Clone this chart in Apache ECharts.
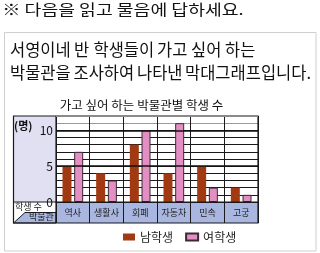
<!DOCTYPE html>
<html><head><meta charset="utf-8">
<script src="https://cdn.jsdelivr.net/npm/echarts@6/dist/echarts.min.js"></script>
<style>html,body{margin:0;padding:0;background:#fff;}#c{width:320px;height:253px;}</style>
</head><body><div id="c"></div>
<script>
const categories = ['역사', '생활사', '회폐', '자동차', '민속', '고궁'];
const boys = [5, 4, 8, 4, 5, 2];
const girls = [7, 3, 10, 11, 2, 1];
const yLabelTicks = [0, 5, 10];
const seriesNames = ['남학생', '여학생'];

const F = '"Noto Sans CJK KR", "Noto Sans", sans-serif';
const chart = echarts.init(document.getElementById('c'), null, {renderer: 'canvas'});
const gridColors = [];
for (let i = 0; i <= 12; i++) gridColors.push(i <= 10 ? '#1a1a1a' : '#9a9a9a');

function words(list, y, size) {
  return list.map(([t, x]) => ({type: 'text', x: x, y: y,
    style: {text: t, font: size + 'px ' + F, fill: '#111', verticalAlign: 'middle'}}));
}

chart.setOption({
  animation: false,
  backgroundColor: '#fff',
  textStyle: {fontFamily: F},
  grid: {left: 56, right: 62, top: 116, bottom: 51, containLabel: false},
  xAxis: {
    type: 'category', data: categories, boundaryGap: true,
    axisLine: {show: true, lineStyle: {color: '#1a1a1a', width: 1}},
    axisTick: {show: true, length: 21, lineStyle: {color: '#1a1a1a', width: 1}},
    axisLabel: {margin: 6, fontSize: 9, color: '#222', fontFamily: F},
    splitLine: {show: true, lineStyle: {color: '#1a1a1a', width: 1}}
  },
  yAxis: {
    type: 'value', min: 0, max: 12, interval: 1,
    axisLine: {show: false}, axisTick: {show: false},
    axisLabel: {margin: 3, fontSize: 12, color: '#111', fontFamily: F,
      formatter: v => yLabelTicks.includes(v) ? String(v) : ''},
    splitLine: {show: true, lineStyle: {color: gridColors, width: 1}}
  },
  legend: {
    show: true, orient: 'horizontal',
    data: seriesNames, left: 123, top: 231, padding: 0,
    itemWidth: 12, itemHeight: 7, itemGap: 12, icon: 'rect',
    textStyle: {fontSize: 12, color: '#222', fontFamily: F}
  },
  series: [
    {type: 'line', name: 'grid5', data: [], z: 1, silent: true,
     markLine: {silent: true, symbol: 'none', label: {show: false},
       lineStyle: {color: '#111', width: 1.7, type: 'solid'},
       data: yLabelTicks.filter(v => v > 0).map(v => ({yAxis: v}))}},
    {type: 'bar', name: seriesNames[0], data: boys, barWidth: 9, barGap: '30%', z: 3,
     itemStyle: {color: '#a13a12'}},
    {type: 'bar', name: seriesNames[1], data: girls, barWidth: 9, z: 3,
     itemStyle: {color: '#e48fc4', borderColor: '#3a2a33', borderWidth: 1}}
  ],
  graphic: [].concat(
    [{type: 'text', x: 3, y: 9, scaleX: 1.26, originX: 3, originY: 9,
      style: {text: '※ 다음을 읽고 물음에 답하세요.', font: '14.5px ' + F, fill: '#111', verticalAlign: 'middle'}}],
    [{type: 'rect', shape: {x: 4.5, y: 32.5, width: 311.5, height: 218.5}, style: {fill: 'none', stroke: '#cfcfcf', lineWidth: 1}}],
    words([['서영이네', 10], ['반', 74], ['학생들이', 93.5], ['가고', 157], ['싶어', 191], ['하는', 225]], 50, 16.5),
    words([['박물관을', 10], ['조사하여', 73.5], ['나타낸', 137], ['막대그래프입니다.', 185]], 72.5, 16.5),
    [
    {type: 'text', x: 141.5, y: 105, style: {text: '가고 싶어 하는 박물관별 학생 수', font: '12.5px ' + F, fill: '#111', align: 'center', verticalAlign: 'middle'}},
    {type: 'rect', z: -10, shape: {x: 13.5, y: 116, width: 42.5, height: 86}, style: {fill: '#e1e0f2'}},
    {type: 'rect', z: -10, shape: {x: 56, y: 202, width: 202, height: 21}, style: {fill: '#a9b6e0'}},
    {type: 'polygon', z: -10, shape: {points: [[13.5, 223], [25, 212.5], [56, 212.5], [56, 223]]}, style: {fill: '#a9b6e0', stroke: '#1a1a1a', lineWidth: 1}},
    {type: 'rect', z: 5, shape: {x: 13.5, y: 116, width: 244.5, height: 107}, style: {fill: 'none', stroke: '#1a1a1a', lineWidth: 1.2}},
    {type: 'line', z: 6, shape: {x1: 56, y1: 116, x2: 258, y2: 116}, style: {stroke: '#8a8a8a', lineWidth: 2}},
    {type: 'line', z: 5, shape: {x1: 13.5, y1: 202, x2: 258, y2: 202}, style: {stroke: '#1a1a1a', lineWidth: 1.2}},
    {type: 'line', z: 5, shape: {x1: 56, y1: 116, x2: 56, y2: 223}, style: {stroke: '#1a1a1a', lineWidth: 1.2}},
    {type: 'text', left: 14, top: 120, style: {text: '(명)', font: 'bold 11px ' + F, fill: '#111'}},
    {type: 'text', left: 15, top: 202, style: {text: '학생 수', font: '9px ' + F, fill: '#222'}},
    {type: 'text', left: 29, top: 212, style: {text: '박물관', font: '9px ' + F, fill: '#222'}}
  ])
});
</script>
</body></html>
